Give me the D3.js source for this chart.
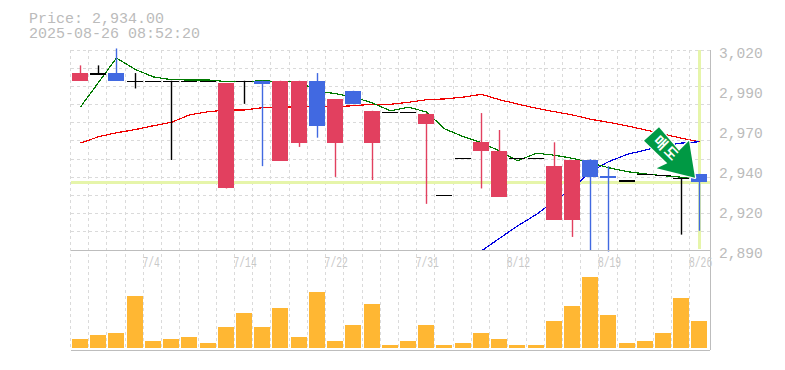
<!DOCTYPE html>
<html>
<head>
<meta charset="utf-8">
<script src="https://cdn.jsdelivr.net/npm/d3@7"></script>
<style>
  html, body { margin: 0; padding: 0; background: #fff; }
  text { font-family: "Liberation Mono", monospace; fill: #bbb; }
</style>
</head>
<body>
<script>
var priceLabel = "Price: 2,934.00";
var timeLabel = "2025-08-26 08:52:20";
var lastPrice = 2934;

var opens  = [3000,3005,3005,3000,3000,3000,3000,3000,2930,3000,3000,2948,2959.5,3000,2959.5,2993.5,2959.5,2980,2980,2972,2926,2950,2954.5,2924.5,2950,2950,2909.5,2909.5,2948.5,2938,2935.5,2939.5,2939,2937,2939.5];
var closes = [3005,3005,3000,3000,3000,3000,3000,3000,2998.5,3000,2998,3000,3000,2970.5,2988,2985,2980.5,2980,2980,2978.5,2926,2950,2960,2954.5,2950,2950,2944.5,2948.5,2937.5,2936.5,2935.5,2939.5,2939,2937,2934];
var highs  = [3010,3010,3021,3005,3000,3000,3000,3000,2998.5,3000,3000,3000,3000,3005,2988,2993.5,2980.5,2980,2980,2979,2926,2950,2979,2968,2950,2950,2960,2948.5,2949,2944.5,2935.5,2939.5,2939,2937,2939.5];
var lows   = [3000,3005,3000,2995,3000,2948.5,3000,3000,2930,2985,2944.5,2948,2957,2963,2937.5,2985,2935.5,2980,2980,2920,2926,2950,2930,2924.5,2950,2950,2909.5,2898.5,2890,2889,2935.5,2939.5,2939,2900,2902.5];
var volumes = [9,13,15,52,7,9,11,5,21,35,21,40,11,56,7,23,44,3,7,23,3,5,15,9,3,3,27,42,71,33,5,7,15,50,27];

var maShort = [2983,2998.9,3014.8,3007.3,3002.5,3000.7,3000.5,3000.5,2999.5,2999.5,3000,2999.5,2999.2,2993.4,2991.6,2989.5,2985.5,2980.5,2982.8,2979.7,2968.8,2963.6,2959.7,2954.4,2948,2952.9,2951.6,2949.6,2946.7,2943.5,2940.9,2939.4,2938.3,2937.3,2936.8];
var maMid = [2959.5,2963.6,2966.2,2968.3,2970.8,2973,2977.8,2979.9,2981,2981,2982.5,2982.8,2983,2983.1,2983.1,2983.8,2984.7,2984.7,2986,2987.7,2988.2,2989.4,2991.2,2987.7,2984.9,2982.1,2979.9,2977.8,2975,2973,2970.6,2968,2965.4,2962.6,2960.4];
var maLong = [null,null,null,null,null,null,null,null,null,null,null,null,null,null,null,null,null,null,null,null,null,null,2889.4,2897.6,2905.6,2913.2,2921.9,2930.1,2940.9,2947.4,2952.2,2955,2957.6,2959.5,2960.4];

var priceTicks = [3020,2994,2968,2942,2916,2890];
var tickIndex = [4,9,14,19,24,29,34];
var tickDates = ["7/4","7/14","7/22","7/31","8/12","8/19","8/26"];
var signalText = "매도";

var width = 785, height = 370;
var plotLeft = 70.5, plotRight = 710, plotTop = 50, plotMid = 250, plotBottom = 350;
var RED = "#e2405f", BLUE = "#4169e1", BLACK = "#000", GRID = "#dadada", AXIS = "#bdbdbd", MARK = "#e6f5aa";

var svg = d3.select("body").append("svg")
  .attr("width", width)
  .attr("height", height)
  .style("display", "block");

var x = d3.scaleBand().domain(d3.range(opens.length)).range([plotLeft, plotLeft + 18.22 * opens.length]);
var y = d3.scaleLinear().domain([2890, 3020]).range([plotMid, plotTop]);
var v = d3.scaleLinear().domain([0, 100]).range([plotBottom - 2, plotBottom - 102]);

function cx(i) { return Math.round(x(i) + x.bandwidth() / 2 + 0.4); }

// grid
var grid = svg.append("g").attr("stroke", GRID).attr("stroke-dasharray", "3,3").attr("shape-rendering", "crispEdges");
grid.selectAll(".gx").data(x.domain()).enter().append("line")
  .attr("x1", d => x(d)).attr("x2", d => x(d))
  .attr("y1", plotTop).attr("y2", plotBottom);
grid.selectAll(".gy").data(d3.range(0, 11)).enter().append("line")
  .attr("x1", plotLeft).attr("x2", plotRight)
  .attr("y1", d => plotTop + d * (plotMid - plotTop) / 11)
  .attr("y2", d => plotTop + d * (plotMid - plotTop) / 11);

// last price / last day marks
svg.append("line").attr("x1", plotLeft).attr("x2", plotRight).attr("y1", y(lastPrice)).attr("y2", y(lastPrice))
  .attr("stroke", MARK).attr("stroke-width", 3).attr("shape-rendering", "crispEdges");
svg.append("line").attr("x1", cx(34) + 0.5).attr("x2", cx(34) + 0.5).attr("y1", plotTop).attr("y2", plotMid - 1)
  .attr("stroke", MARK).attr("stroke-width", 3).attr("shape-rendering", "crispEdges");

// averages
function drawLine(values, color) {
  var line = d3.line()
    .defined(d => d !== null)
    .x((d, i) => cx(i) + 0.5)
    .y(d => y(d));
  svg.append("path").datum(values)
    .attr("d", line)
    .attr("fill", "none")
    .attr("stroke", color)
    .attr("stroke-width", 1.2)
    .attr("shape-rendering", "crispEdges");
}
drawLine(maMid, "#f00000");
drawLine(maLong, "#0000e0");
drawLine(maShort, "#007a00");

// candles
function candleColor(i) {
  if (opens[i] == closes[i]) return BLACK;
  return closes[i] > opens[i] ? RED : BLUE;
}
var candles = svg.append("g");
candles.selectAll(".wick").data(x.domain()).enter().append("rect")
  .attr("x", d => cx(d) - 0.2)
  .attr("width", 1.4)
  .attr("y", d => y(highs[d]))
  .attr("height", d => y(lows[d]) - y(highs[d]))
  .attr("fill", candleColor);
candles.selectAll(".body").data(x.domain()).enter().append("rect")
  .attr("x", d => cx(d) - 8)
  .attr("width", 16)
  .attr("y", d => Math.min(y(opens[d]), y(closes[d])))
  .attr("height", d => Math.max(1.5, Math.abs(y(opens[d]) - y(closes[d]))))
  .attr("fill", candleColor)
  .attr("shape-rendering", "crispEdges");

// volume
svg.append("g").attr("shape-rendering", "crispEdges")
  .selectAll("rect").data(volumes).enter().append("rect")
  .attr("x", (d, i) => cx(i) - 8)
  .attr("width", 16)
  .attr("y", d => v(d))
  .attr("height", d => v(0) - v(d))
  .attr("fill", "#ffb733");

// frame
var frame = svg.append("g").attr("stroke", AXIS).attr("shape-rendering", "crispEdges");
frame.append("line").attr("x1", plotLeft).attr("x2", plotRight).attr("y1", plotMid).attr("y2", plotMid);
frame.append("line").attr("x1", plotLeft).attr("x2", plotRight).attr("y1", plotBottom).attr("y2", plotBottom);
frame.append("line").attr("x1", plotRight).attr("x2", plotRight).attr("y1", plotTop).attr("y2", plotBottom);

// axes
var yAxis = d3.axisRight(y).tickValues(priceTicks).tickSize(0)
  .tickFormat(d => d3.format(",")(Math.round(d / 10) * 10));
var gy = svg.append("g").attr("transform", "translate(" + (plotRight + 9) + ",0)").call(yAxis);
gy.select(".domain").remove();
gy.selectAll("text").attr("x", 0).attr("dy", 0).attr("y", 7).style("font-size", "14.6px");

var xAxis = d3.axisBottom(x).tickValues(tickIndex).tickSize(0)
  .tickFormat(d => tickDates[tickIndex.indexOf(d)]);
var gx = svg.append("g").attr("transform", "translate(0," + plotMid + ")").call(xAxis);
gx.select(".domain").remove();
gx.selectAll("text")
  .attr("text-anchor", "start")
  .attr("x", -x.bandwidth() / 2 - 1)
  .attr("y", 16.5)
  .attr("dy", 0)
  .attr("textLength", d => tickDates[tickIndex.indexOf(d)].length * 5.8)
  .attr("lengthAdjust", "spacingAndGlyphs")
  .style("font-size", "14px")
  .style("fill", "#c8c8c8");

// title
svg.append("text").attr("x", 29).attr("y", 22.5).style("font-size", "15px").text(priceLabel);
svg.append("text").attr("x", 29).attr("y", 37.5).style("font-size", "15px").text(timeLabel);

// sell signal arrow, tip sits on the last candle
var tipX = cx(34) - 4, tipY = y(2937);
var arrowShape = [[-36, -50.5], [-51, -37], [-27.7, -14.5], [-38.3, -9.5], [0, 0], [-6, -37], [-16, -27]];
var signal = svg.append("g").attr("transform", "translate(" + tipX + "," + tipY + ")");
signal.append("polygon")
  .attr("points", arrowShape.map(p => p.join(",")).join(" "))
  .attr("fill", "#009944")
  .attr("stroke", "#fff")
  .attr("stroke-width", 2.5)
  .attr("stroke-linejoin", "round")
  .attr("paint-order", "stroke");
signal.append("text")
  .attr("transform", "translate(-28.5,-29) rotate(45)")
  .attr("text-anchor", "middle")
  .attr("dy", "0.36em")
  .style("font-family", "'Noto Sans CJK KR'")
  .style("font-weight", "bold")
  .style("font-size", "14px")
  .style("letter-spacing", "2px")
  .style("fill", "#fff")
  .text(signalText);
</script>
</body>
</html>
